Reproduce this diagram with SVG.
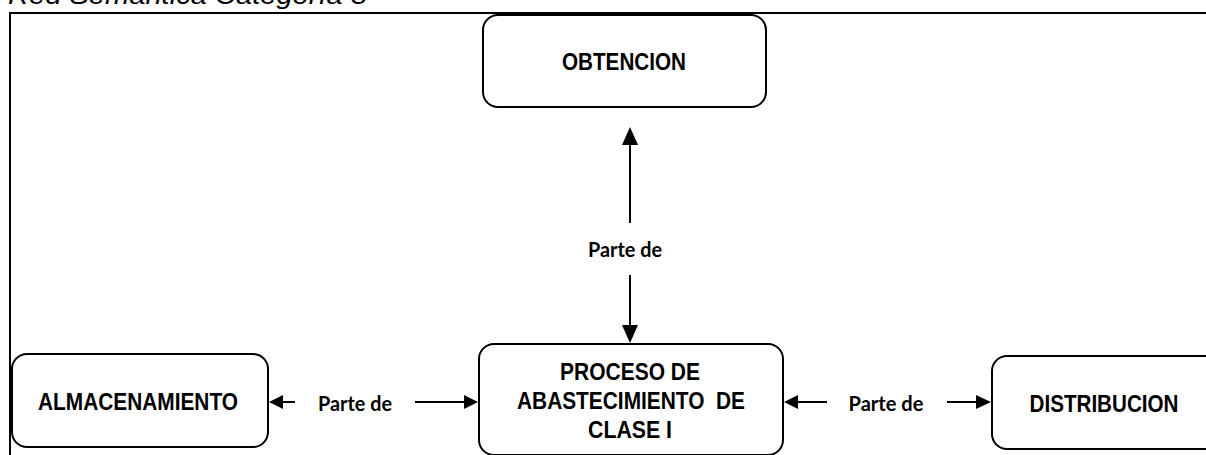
<svg xmlns="http://www.w3.org/2000/svg" width="1206" height="455" viewBox="0 0 1206 455">
<style>
.box{fill:#fff;stroke:#000;stroke-width:2}
.lbl{font-family:"Liberation Sans",Arial,sans-serif;font-weight:bold;font-size:23px;fill:#000;text-anchor:middle}
.pd{font-family:Lato,"Liberation Sans",sans-serif;font-weight:bold;font-size:21px;fill:#000;text-anchor:middle}
.ln{stroke:#000;stroke-width:2;fill:none}
.ah{fill:#000}
</style>
<rect width="1206" height="455" fill="#fff"/>
<text x="8" y="4" font-family="'Liberation Sans',Arial,sans-serif" font-style="italic" font-size="25" textLength="359" lengthAdjust="spacingAndGlyphs">Red Semántica Categoría 3</text>
<path class="ln" d="M10,455 V13 H1206"/>
<g id="obtencion">
<rect class="box" x="483" y="15" width="283" height="92" rx="15"/>
<text class="lbl" x="624" y="70" textLength="124" lengthAdjust="spacingAndGlyphs">OBTENCION</text>
</g>
<g id="almacenamiento">
<rect class="box" x="12" y="354" width="256" height="93" rx="15"/>
<text class="lbl" x="138" y="410" textLength="200" lengthAdjust="spacingAndGlyphs">ALMACENAMIENTO</text>
</g>
<g id="proceso">
<rect class="box" x="479" y="344" width="304" height="111" rx="15"/>
<text class="lbl" x="630" y="380" textLength="140" lengthAdjust="spacingAndGlyphs">PROCESO DE</text>
<text class="lbl" x="631" y="409" xml:space="preserve" textLength="228" lengthAdjust="spacingAndGlyphs">ABASTECIMIENTO  DE</text>
<text class="lbl" x="630" y="438" textLength="84" lengthAdjust="spacingAndGlyphs">CLASE I</text>
</g>
<g id="distribucion">
<rect class="box" x="992" y="356" width="240" height="93" rx="15"/>
<text class="lbl" x="1104" y="412" textLength="149" lengthAdjust="spacingAndGlyphs">DISTRIBUCION</text>
</g>
<g id="connectors">
<line class="ln" x1="630" y1="223" x2="630" y2="143"/>
<polygon class="ah" points="630,127 622,145 638,145"/>
<line class="ln" x1="630" y1="275" x2="630" y2="327"/>
<polygon class="ah" points="630,343 622,325 638,325"/>
<text class="pd" x="625" y="257" textLength="74" lengthAdjust="spacingAndGlyphs">Parte de</text>
<line class="ln" x1="295" y1="402" x2="280" y2="402"/>
<polygon class="ah" points="269,402 283,395 283,409"/>
<line class="ln" x1="415" y1="402" x2="466" y2="402"/>
<polygon class="ah" points="478,402 464,395 464,409"/>
<text class="pd" x="355" y="411" textLength="74" lengthAdjust="spacingAndGlyphs">Parte de</text>
<line class="ln" x1="827" y1="402" x2="795" y2="402"/>
<polygon class="ah" points="784,402 798,395 798,409"/>
<line class="ln" x1="947" y1="402" x2="977" y2="402"/>
<polygon class="ah" points="991,402 976,395 976,409"/>
<text class="pd" x="886" y="411" textLength="75" lengthAdjust="spacingAndGlyphs">Parte de</text>
</g>
</svg>
